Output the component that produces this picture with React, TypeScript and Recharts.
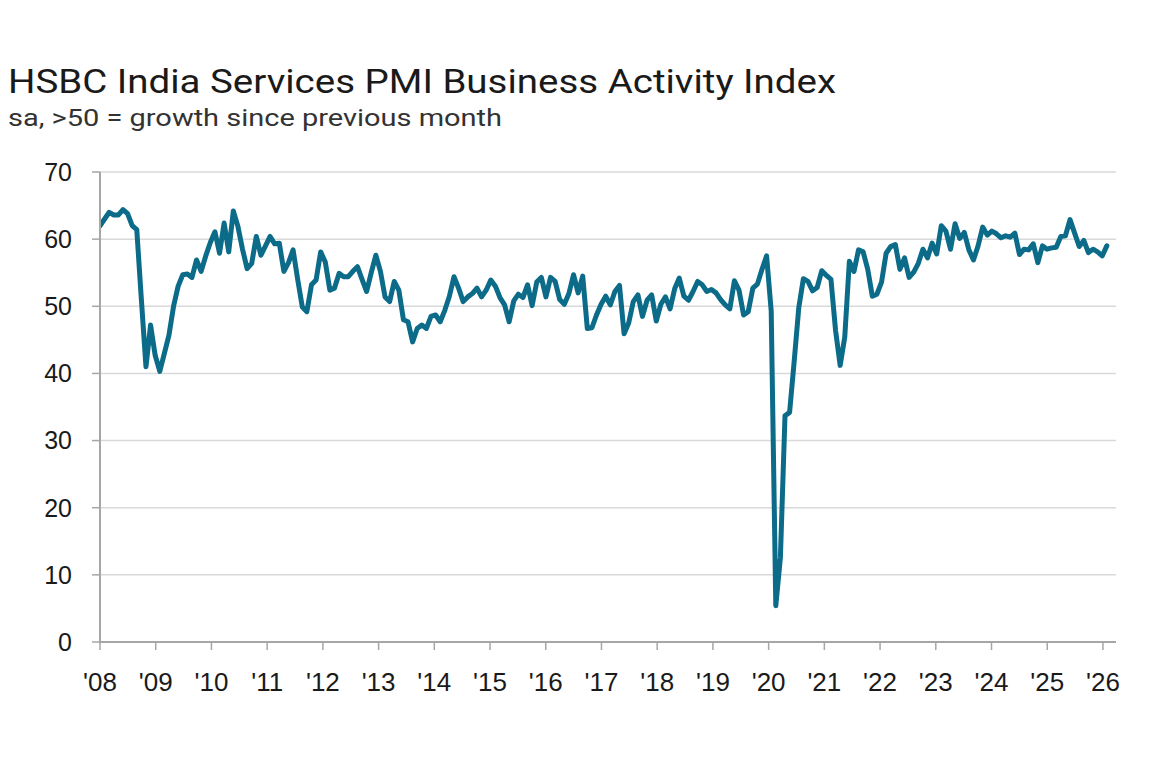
import React from 'react';
import { LineChart, Line, XAxis, YAxis, CartesianGrid } from 'recharts';

// Monthly readings, Jan 2008 onwards
const pmi2008 = [62.0, 63.0, 64.0, 63.6, 63.6, 64.4, 63.8, 62.0, 61.4, 51.0, 41.0, 47.2];
const pmi2009 = [42.7, 40.3, 43.0, 45.7, 50.0, 53.0, 54.7, 54.8, 54.3, 56.9, 55.2, 57.5];
const pmi2010 = [59.5, 61.1, 57.9, 62.4, 58.1, 64.2, 61.9, 58.5, 55.6, 56.4, 60.4, 57.6];
const pmi2011 = [59.0, 60.4, 59.3, 59.4, 55.2, 56.5, 58.4, 54.0, 49.9, 49.2, 53.2, 53.9];
const pmi2012 = [58.1, 56.6, 52.4, 52.7, 54.9, 54.4, 54.4, 55.2, 55.9, 54.0, 52.2, 55.0];
const pmi2013 = [57.6, 55.2, 51.4, 50.7, 53.7, 52.4, 48.0, 47.7, 44.7, 46.7, 47.2, 46.7];
const pmi2014 = [48.5, 48.7, 47.7, 49.4, 51.5, 54.4, 52.7, 50.7, 51.4, 51.9, 52.7, 51.4];
const pmi2015 = [52.4, 53.9, 53.0, 51.3, 50.2, 47.7, 50.8, 51.8, 51.3, 53.2, 50.1, 53.6];
const pmi2016 = [54.3, 51.4, 54.3, 53.7, 51.0, 50.3, 51.9, 54.7, 52.0, 54.5, 46.7, 46.8];
const pmi2017 = [48.7, 50.3, 51.5, 50.2, 52.2, 53.1, 45.9, 47.5, 50.7, 51.7, 48.5, 50.9];
const pmi2018 = [51.7, 47.8, 50.3, 51.4, 49.6, 52.6, 54.2, 51.5, 50.9, 52.2, 53.7, 53.2];
const pmi2019 = [52.2, 52.5, 52.0, 51.0, 50.2, 49.6, 53.8, 52.4, 48.7, 49.2, 52.7, 53.3];
const pmi2020 = [55.5, 57.5, 49.3, 5.4, 12.6, 33.7, 34.2, 41.8, 49.8, 54.1, 53.7, 52.3];
const pmi2021 = [52.8, 55.3, 54.6, 54.0, 46.4, 41.2, 45.4, 56.7, 55.2, 58.4, 58.1, 55.5];
const pmi2022 = [51.5, 51.8, 53.6, 57.9, 58.9, 59.2, 55.5, 57.2, 54.3, 55.1, 56.4, 58.5];
const pmi2023 = [57.2, 59.4, 57.8, 62.0, 61.2, 58.5, 62.3, 60.1, 61.0, 58.4, 56.9, 59.0];
const pmi2024 = [61.8, 60.6, 61.2, 60.8, 60.2, 60.5, 60.3, 60.9, 57.7, 58.5, 58.4, 59.3];
const pmi2025 = [56.5, 59.0, 58.5, 58.7, 58.8, 60.4, 60.5, 62.9, 60.9, 58.9, 59.8, 58.0];
const pmi2026 = [58.5, 58.1, 57.5, 59.0];

const yearLabels = ["'08", "'09", "'10", "'11", "'12", "'13", "'14", "'15", "'16", "'17", "'18", "'19", "'20", "'21", "'22", "'23", "'24", "'25", "'26"];
const yTicks = [0, 10, 20, 30, 40, 50, 60, 70];

const series = [
  pmi2008, pmi2009, pmi2010, pmi2011, pmi2012, pmi2013, pmi2014, pmi2015, pmi2016,
  pmi2017, pmi2018, pmi2019, pmi2020, pmi2021, pmi2022, pmi2023, pmi2024, pmi2025, pmi2026,
].flat();

const data = series.map((v, i) => ({ i, v }));

// the reference's year ticks sit slightly more than 12 points apart
const YEAR_TICK_STEP = 12.12;
const xTicks = yearLabels.map((_, j) => j * YEAR_TICK_STEP);

const FONT = "'Liberation Sans', Arial, sans-serif";
const TITLE_FONT = "Roboto, 'Liberation Sans', Arial, sans-serif";
const LINE_COLOR = '#0b6b88';
const AXIS_COLOR = '#a6a6a6';
const GRID_COLOR = '#d9d9d9';

export default function App() {
  return (
    <div style={{ position: 'absolute', left: 0, top: 0, width: 1156, height: 770, background: '#ffffff', overflow: 'hidden' }}>
      <svg width={1156} height={150} style={{ position: 'absolute', left: 0, top: 0 }}>
        <text x={8} y={93} fontFamily={TITLE_FONT} fontSize={33} fill="#1a1a1a" textLength={828} lengthAdjust="spacingAndGlyphs">
          HSBC India Services PMI Business Activity Index
        </text>
        <text x={8} y={126} fontFamily={TITLE_FONT} fontSize={24} fill="#333333" textLength={494} lengthAdjust="spacingAndGlyphs">
          sa, &gt;50 = growth since previous month
        </text>
      </svg>
      <div style={{ position: 'absolute', left: 0, top: 0 }}>
        <LineChart width={1156} height={770} data={data} margin={{ top: 172, right: 40, bottom: 68, left: 0 }}>
          <CartesianGrid horizontal={true} vertical={false} stroke={GRID_COLOR} strokeWidth={1.5} />
          <XAxis
            type="number"
            dataKey="i"
            domain={[0, 221]}
            ticks={xTicks}
            interval={0}
            allowDataOverflow
            height={60}
            tickFormatter={(t: number) => yearLabels[Math.round(t / YEAR_TICK_STEP)]}
            axisLine={{ stroke: AXIS_COLOR, strokeWidth: 2 }}
            tickLine={{ stroke: AXIS_COLOR, strokeWidth: 1.5 }}
            tickSize={8}
            tickMargin={23}
            tick={{ fill: '#1a1a1a', fontSize: 26, fontFamily: FONT }}
          />
          <YAxis
            type="number"
            domain={[0, 70]}
            ticks={yTicks}
            interval={0}
            width={100}
            axisLine={{ stroke: AXIS_COLOR, strokeWidth: 2 }}
            tickLine={{ stroke: AXIS_COLOR, strokeWidth: 1.5 }}
            tickSize={8}
            tickMargin={20}
            tick={{ fill: '#1a1a1a', fontSize: 25, fontFamily: FONT }}
          />
          <Line
            type="linear"
            dataKey="v"
            stroke={LINE_COLOR}
            strokeWidth={5}
            dot={false}
            activeDot={false}
            strokeLinejoin="round"
            strokeLinecap="round"
            isAnimationActive={false}
          />
        </LineChart>
      </div>
    </div>
  );
}
